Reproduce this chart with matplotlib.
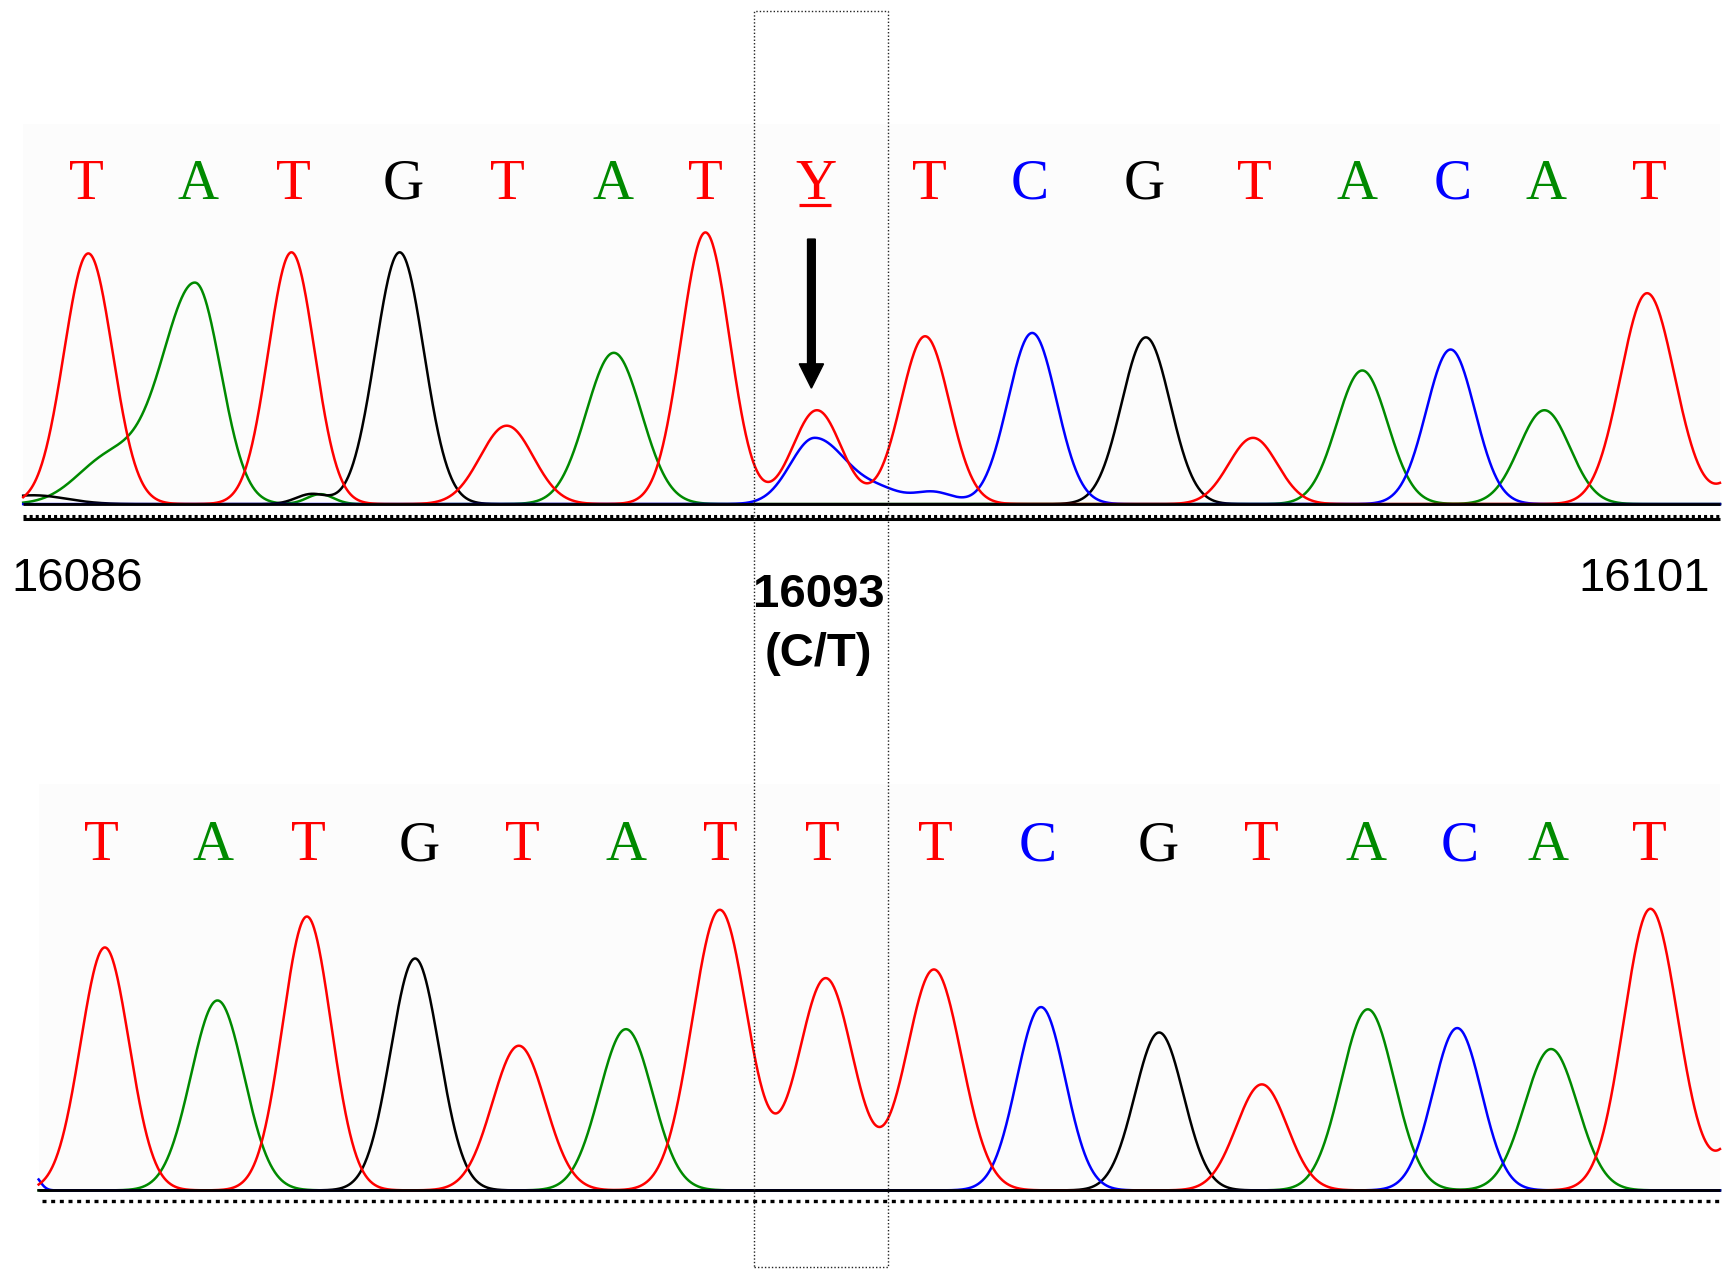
import numpy as np
import matplotlib.pyplot as plt
from matplotlib.patches import Rectangle, FancyArrow

# ─── Layout units: reference drawn on a 1568 x 1151 grid ──────────────────────
W, H = 1568, 1151

# ─── Base calls ───────────────────────────────────────────────────────────────
TOP_BASES = ["T", "A", "T", "G", "T", "A", "T", "Y", "T", "C", "G", "T", "A", "C", "A", "T"]
TOP_BASE_X = [78, 179, 266, 365, 460, 555, 639, 739, 842, 933, 1036, 1136, 1229, 1316, 1400, 1494]
BOT_BASES = ["T", "A", "T", "G", "T", "A", "T", "T", "T", "C", "G", "T", "A", "C", "A", "T"]
BOT_BASE_X = [92, 193, 279, 380, 473, 567, 653, 745, 847, 940, 1049, 1143, 1237, 1322, 1402, 1494]

POS_START, POS_END, POS_SNP = "16086", "16101", "16093"
SNP_CALL = "(C/T)"

# ─── Trace peaks: (scan position, height, left width, right width) ────────────
TOP_T = [(80, 227, 22, 22), (264, 228, 21, 21), (459, 71, 24, 24), (639, 246, 22, 22),
         (740, 85, 22, 22), (838, 152, 22, 22), (1135, 60, 22, 22), (1492, 191, 24, 25),
         (1595, 55, 22, 22)]
TOP_A = [(100, 42, 30, 30), (177, 199, 30, 23), (290, 9, 12, 12), (556, 137, 25, 25),
         (1234, 121, 23, 23), (1399, 85, 23, 23)]
TOP_G = [(30, 8, 30, 30), (282, 9, 14, 14), (362, 228, 22, 22), (1038, 151, 22, 22)]
TOP_C = [(738, 60, 22, 30), (800, 9, 18, 18), (845, 11, 18, 18), (935, 155, 22, 22),
         (1314, 140, 22, 22)]

BOT_T = [(95, 220, 22, 22), (278, 248, 22, 22), (470, 131, 24, 24), (652, 254, 25, 25),
         (748, 192, 25, 25), (846, 200, 25, 25), (1143, 96, 23, 23), (1495, 255, 24, 25),
         (1600, 110, 25, 25)]
BOT_A = [(197, 172, 24, 24), (567, 146, 24, 24), (1239, 164, 24, 24), (1405, 128, 24, 24)]
BOT_G = [(376, 210, 22, 22), (1050, 143, 22, 22)]
BOT_C = [(30, 14, 6, 6), (943, 166, 22, 22), (1320, 147, 22, 22)]

# ─── Styles ───────────────────────────────────────────────────────────────────
COLORS = {"A": "#008a00", "C": "#0000ff", "G": "#000000", "T": "#ff0000", "Y": "#ff0000"}
PANEL_BG = "#fcfcfc"
TRACE_LW = 1.8
BASE_FONT = dict(family="Liberation Serif", fontsize=41)
NUM_FONT = dict(family="Liberation Sans", fontsize=34)


def trace(x, peaks):
    y = np.zeros_like(x)
    for pos, h, wl, wr in peaks:
        w = np.where(x < pos, wl, wr)
        y += h * np.exp(-(x - pos) ** 2 / (2.0 * w ** 2))
    return y


def panel_axes(fig, base_y, lo, hi):
    """Axes whose data units equal layout pixels, y=0 at the trace baseline."""
    bottom = 1 - (base_y - lo) / H
    ax = fig.add_axes([0, bottom, 1, (hi - lo) / H])
    ax.set_xlim(0, W)
    ax.set_ylim(lo, hi)
    ax.axis("off")
    return ax


def fx(x):
    return x / W


def fy(y):
    return 1 - y / H


fig = plt.figure(figsize=(17.31, 12.71), dpi=100)

# faint panel backgrounds (behind the axes)
fig.patches.append(Rectangle((fx(21), fy(457)), fx(1558 - 21), (457 - 112) / H,
                             transform=fig.transFigure, facecolor=PANEL_BG,
                             edgecolor="none", zorder=-5))
fig.patches.append(Rectangle((fx(35), fy(1078)), fx(1558 - 35), (1078 - 710) / H,
                             transform=fig.transFigure, facecolor=PANEL_BG,
                             edgecolor="none", zorder=-5))

panels = [
    dict(base=456.5, x0=21, x1=1558, bases=TOP_BASES, bx=TOP_BASE_X, by=276.5,
         peaks={"A": TOP_A, "G": TOP_G, "C": TOP_C, "T": TOP_T}),
    dict(base=1078, x0=35, x1=1558, bases=BOT_BASES, bx=BOT_BASE_X, by=299,
         peaks={"A": BOT_A, "G": BOT_G, "C": BOT_C, "T": BOT_T}),
]

axes = []
for i, p in enumerate(panels):
    ax = panel_axes(fig, p["base"], -25, 420)
    axes.append(ax)
    x = np.arange(p["x0"], p["x1"] + 0.25, 0.5)

    # fluorescence traces
    for base in ["A", "G", "C", "T"]:
        ax.plot(x, trace(x, p["peaks"][base]), color=COLORS[base], lw=TRACE_LW,
                solid_joinstyle="miter", zorder=2)

    # baseline and scan ruler
    ax.plot([p["x0"], p["x1"]], [0, 0], color="black", lw=2.0, solid_capstyle="butt", zorder=3)
    if i == 0:
        ax.plot([p["x0"], p["x1"]], [-11.2, -11.2], color="black", lw=2.2,
                linestyle=(0, (1.0, 1.0)), zorder=3)
        ax.plot([p["x0"], p["x1"]], [-13.8, -13.8], color="black", lw=2.2,
                solid_capstyle="butt", zorder=3)
    else:
        ax.plot([p["x0"] + 3, p["x1"]], [-9.5, -9.5], color="black", lw=2.4,
                linestyle=(0, (1.2, 1.4)), zorder=3)

    # base calls
    for b, bx in zip(p["bases"], p["bx"]):
        ax.text(bx, p["by"], b, color=COLORS[b], ha="center", va="baseline",
                clip_on=False, **BASE_FONT)

# underline of the ambiguous call and arrow
top = axes[0]
snp_x = TOP_BASE_X[TOP_BASES.index("Y")]
top.plot([snp_x - 15, snp_x + 14], [270.5, 270.5], color=COLORS["Y"], lw=2.3,
         solid_capstyle="butt", zorder=4)
top.add_patch(FancyArrow(snp_x - 4, 240, 0, -135, width=7, head_width=22,
                         head_length=22, length_includes_head=True,
                         color="black", zorder=5))

# position labels
fig.text(fx(10), fy(524), POS_START, ha="left", va="center", **NUM_FONT)
fig.text(fx(1549), fy(524), POS_END, ha="right", va="center", **NUM_FONT)
fig.text(fx(742), fy(539), POS_SNP, ha="center", va="center", fontweight="bold", **NUM_FONT)
fig.text(fx(741), fy(592), SNP_CALL, ha="center", va="center", fontweight="bold", **NUM_FONT)

# dotted box around the variant column
fig.patches.append(Rectangle((fx(683), fy(1147)), fx(804 - 683), (1147 - 10) / H,
                             transform=fig.transFigure, facecolor="none",
                             edgecolor="#222222", lw=1.0, linestyle=(0, (1, 1.5)),
                             zorder=10))

fig.savefig("out.png", dpi=100, facecolor="white")
